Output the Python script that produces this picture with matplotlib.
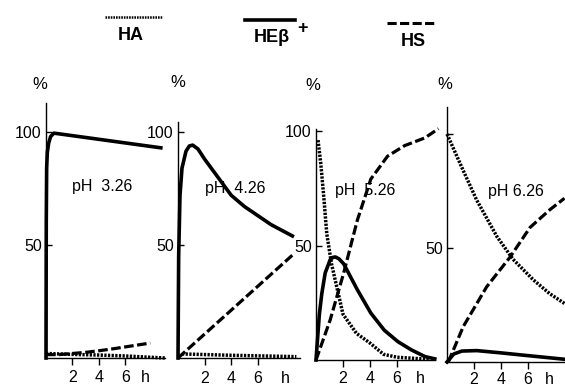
import matplotlib
matplotlib.use("Agg")
import matplotlib.pyplot as plt

plt.rcParams['font.family'] = ['Liberation Sans', 'DejaVu Sans']

W, H = 565, 387

# ---------------- data (hours, %) ----------------
ph_labels = ["pH  3.26", "pH  4.26", "pH  5.26", "pH 6.26"]
x_ticks = [2, 4, 6]
x_tick_labels = ["2", "4", "6"]
y_ticks = [50, 100]

# pH 3.26
heb1_t = [0, 0.02, 0.05, 0.1, 0.2, 0.35, 0.6, 8.7]
heb1_y = [0, 60, 84, 91, 95, 98, 99.5, 93]
hs1_t = [0, 1, 2, 3, 4, 5, 6, 7, 7.9]
hs1_y = [1.5, 1.5, 2, 2.5, 3.2, 4, 4.9, 5.8, 6.6]
ha1_t = [0, 2, 4, 6, 9]
ha1_y = [2, 1.6, 1.3, 0.9, 0]

# pH 4.26
heb2_t = [0, 0.05, 0.15, 0.3, 0.6, 0.85, 1.1, 1.5, 2, 3, 4, 5, 6, 7, 8.6]
heb2_y = [0, 45, 72, 84, 91.5, 93.8, 94.2, 92.5, 88, 80, 72, 67, 63, 59, 54]
hs2_t = [0, 8.6]
hs2_y = [0, 45.5]
ha2_t = [0.3, 4, 8.9]
ha2_y = [1.8, 1.2, 0.6]

# pH 5.26
heb3_t = [0, 0.25, 0.43, 0.68, 1.05, 1.25, 1.43, 1.7, 2.05, 3.06, 4.06, 5.06, 6.07, 7.07, 8.07, 8.8]
heb3_y = [0, 20, 29, 38, 43.8, 44.8, 45, 44.2, 42, 30.7, 20.5, 13, 8, 4.4, 1.5, 0.5]
hs3_t = [0, 1.05, 2.05, 3.06, 4.06, 5.3, 6.56, 8.07, 9.07]
hs3_y = [0, 17.5, 38, 61, 79, 89, 93.6, 97, 101]
ha3_t = [0.15, 0.35, 0.55, 0.8, 1.15, 1.65, 2, 3, 4, 5, 6, 8.4]
ha3_y = [96, 86, 73, 55, 42, 29, 20, 11.6, 7.4, 2.5, 1.2, 0.3]

# pH 6.26
heb4_t = [0, 0.5, 1.1, 2.2, 4, 5.65, 8.7]
heb4_y = [0, 3.5, 4.8, 5, 4, 3, 1.2]
hs4_t = [0.1, 1.2, 2.94, 4.67, 6.15, 7.6, 8.7]
hs4_y = [0, 15.5, 33, 46, 59, 66.7, 71.8]
ha4_t = [0, 1.2, 2.2, 3.7, 4.9, 6.4, 7.6, 8.7]
ha4_y = [100, 84, 71, 55, 45, 36, 30, 25.7]

series = [
    (heb1_t, heb1_y, hs1_t, hs1_y, ha1_t, ha1_y),
    (heb2_t, heb2_y, hs2_t, hs2_y, ha2_t, ha2_y),
    (heb3_t, heb3_y, hs3_t, hs3_y, ha3_t, ha3_y),
    (heb4_t, heb4_y, hs4_t, hs4_y, ha4_t, ha4_y),
]

# ---------------- layout (pixels) ----------------
# origin x, origin y (from top), px per hour, px per %, xmax, ymax
layout = [
    (46, 358, 13.2, 2.26, 9.0, 113),
    (178, 358, 13.3, 2.26, 9.2, 104.4),
    (316, 360, 13.5, 2.29, 8.8, 101),
    (447, 362, 13.5, 2.28, 9.0, 112),
]
h_pos = [7.5, 8.05, 7.7, 7.55]
x_pad = [3.6, 4.2, 3.2, 2.2]
ph_pos = [(2.0, 75.7), (2.0, 75.2), (1.4, 74.2), (3.0, 74.6)]
pct_pos = [(-0.45, 121), (0.0, 121.7), (-0.2, 120), (-0.15, 121.5)]
show_100 = [True, True, True, False]

LW = 2.3
DASH = (0, (3.0, 1.1))
DOT = (0, (0.65, 0.4))

fig = plt.figure(figsize=(W / 100, H / 100), dpi=100)

for i, (x0, y0, sx, sy, xmax, ymax) in enumerate(layout):
    ax = fig.add_axes([x0 / W, (H - y0) / H, xmax * sx / W, ymax * sy / H])
    ax.set_facecolor('none')
    ax.set_xlim(0, xmax)
    ax.set_ylim(0, ymax)
    for s in ['top', 'right']:
        ax.spines[s].set_visible(False)
    for s in ['left', 'bottom']:
        ax.spines[s].set_linewidth(1.0)
        ax.spines[s].set_color('black')
    ax.set_xticks(x_ticks + [h_pos[i]])
    ax.set_xticklabels(x_tick_labels + ['h'], fontsize=11.5)
    ax.xaxis.get_major_ticks()[-1].tick1line.set_visible(False)
    ax.tick_params(axis='x', direction='out', length=5, width=1.0, pad=x_pad[i])
    ax.set_yticks(y_ticks)
    ax.set_yticklabels(['50', '100' if show_100[i] else ''], fontsize=11.5)
    ax.tick_params(axis='y', direction='in', length=4, width=1.0, pad=3)

    heb_t, heb_y, hs_t, hs_y, ha_t, ha_y = series[i]
    ax.plot(ha_t, ha_y, color='black', lw=LW + 0.2, linestyle=DOT, clip_on=False,
            dash_capstyle='butt')
    ax.plot(hs_t, hs_y, color='black', lw=LW, linestyle=DASH, clip_on=False,
            dash_capstyle='butt')
    ax.plot(heb_t, heb_y, color='black', lw=LW + 0.3, linestyle='-', clip_on=False,
            solid_joinstyle='round')

    ax.text(ph_pos[i][0], ph_pos[i][1], ph_labels[i], fontsize=11.5,
            ha='left', va='center')
    ax.text(pct_pos[i][0], pct_pos[i][1], '%', fontsize=12,
            ha='center', va='center', clip_on=False)

# ---------------- legend (top) ----------------
leg = fig.add_axes([0, 0, 1, 1])
leg.set_xlim(0, W)
leg.set_ylim(H, 0)
leg.axis('off')
leg.set_facecolor('none')
leg.plot([105, 162], [17, 17], color='black', lw=1.8, linestyle=DOT)
leg.text(131, 35, 'HA', fontsize=13, fontweight='bold', ha='center', va='center')
leg.plot([245, 295], [20, 20], color='black', lw=2.6, linestyle='-')
leg.text(272, 38, 'HEβ', fontsize=13, fontweight='bold', ha='center', va='center')
leg.text(302, 28, '+', fontsize=13, fontweight='bold', ha='center', va='center')
leg.plot([387, 437], [23, 23], color='black', lw=2.2, linestyle=DASH)
leg.text(413, 41, 'HS', fontsize=13, fontweight='bold', ha='center', va='center')

fig.savefig('out.png', dpi=100)
